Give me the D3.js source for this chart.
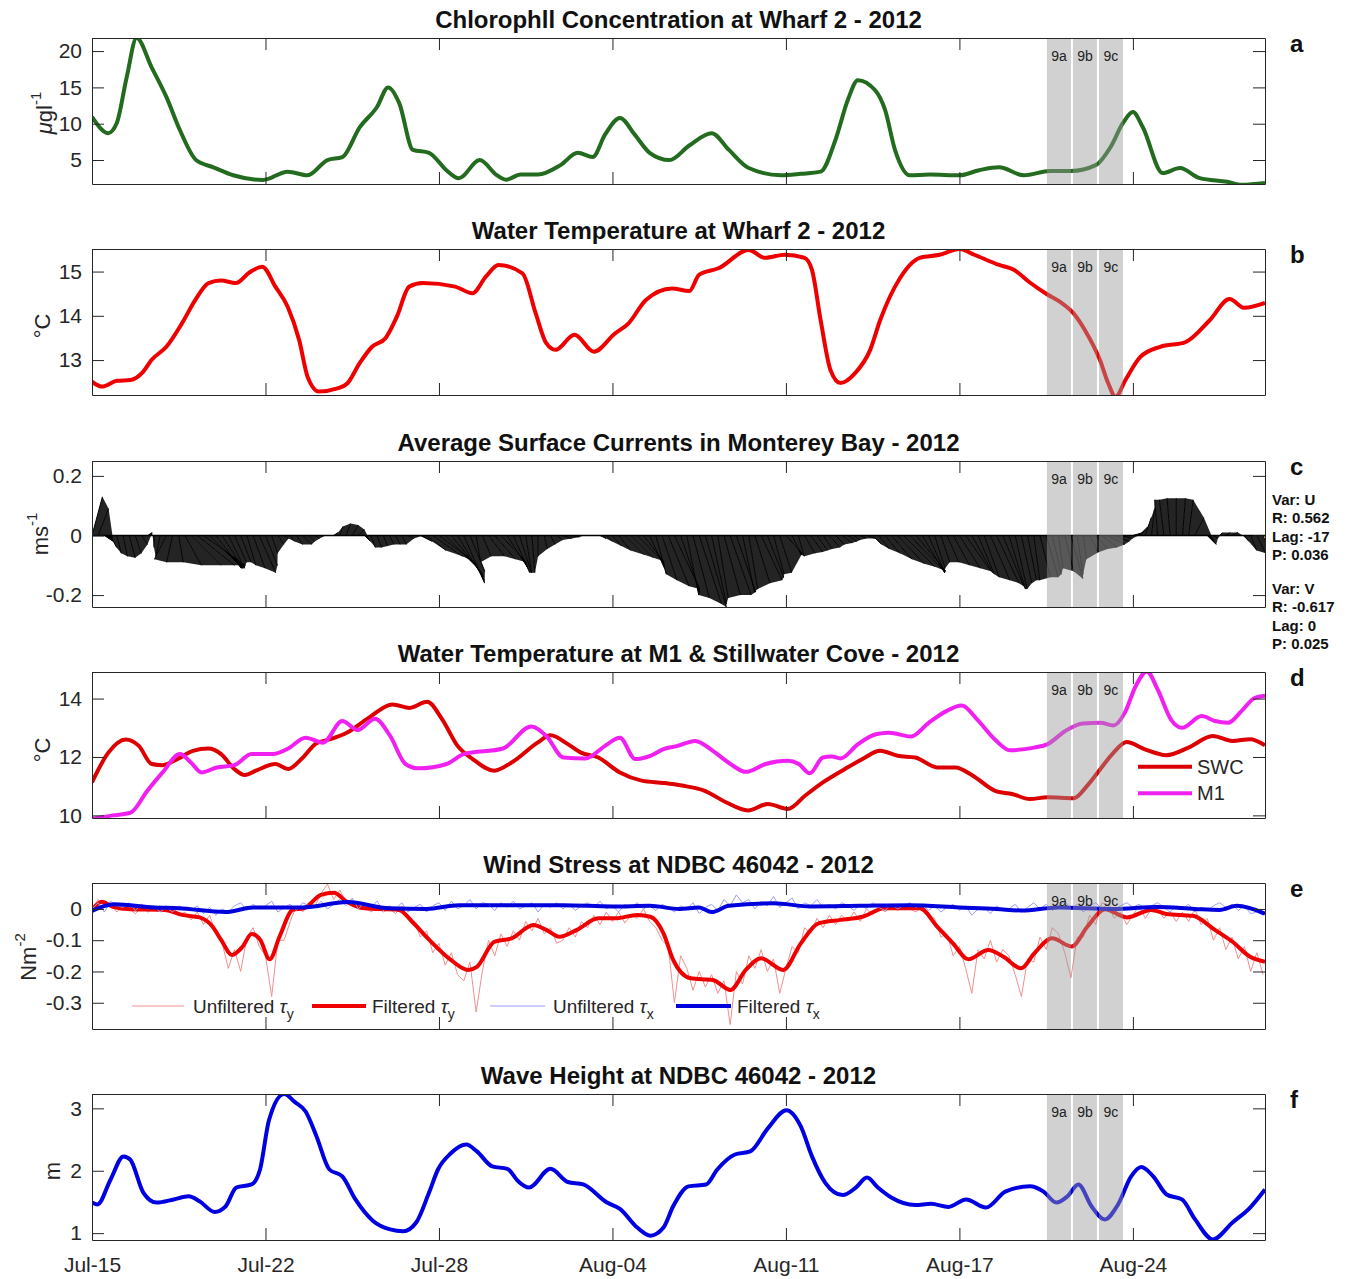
<!DOCTYPE html>
<html>
<head>
<meta charset="utf-8">
<script src="https://cdnjs.cloudflare.com/ajax/libs/d3/7.8.5/d3.min.js"></script>
<style>
body { margin: 0; background: #fff; }
svg { font-family: 'Liberation Sans', Arial, sans-serif; }
</style>
</head>
<body>
<svg id="canvas" width="1351" height="1279"></svg>
<script>
// time is in days after Jul-15 00:00
const tickDays = [0, 7, 14, 21, 28, 35, 42]
const tickLabels = ['Jul-15', 'Jul-22', 'Jul-28', 'Aug-04', 'Aug-11', 'Aug-17', 'Aug-24']
const endDay = 47.33

const bandStarts = [38.53, 39.58, 40.63]
const bandEnds = [39.5, 40.55, 41.6]
const bandLabels = ['9a', '9b', '9c']

const titles = [
    'Chlorophll Concentration at Wharf 2 - 2012',
    'Water Temperature at Wharf 2 - 2012',
    'Average Surface Currents in Monterey Bay - 2012',
    'Water Temperature at M1 & Stillwater Cove - 2012',
    'Wind Stress at NDBC 46042 - 2012',
    'Wave Height at NDBC 46042 - 2012'
]
const panelLetters = ['a', 'b', 'c', 'd', 'e', 'f']

// a: chlorophyll (ug/l)
const chlDays = [0, 0.65, 1.0, 1.4, 1.8, 2.4, 3.0, 3.55, 4.2, 4.9, 5.7, 6.9, 7.9, 8.7, 9.5, 10.1, 10.8, 11.5, 11.95, 12.4,
    12.95, 13.6, 14.3, 14.8, 15.65, 16.3, 16.7, 17.3, 18.0, 18.9, 19.6, 20.2, 20.7, 21.3, 21.9, 22.5, 23.3, 24.1, 25.0, 25.7,
    26.5, 27.8, 28.6, 29.4, 30.0, 30.5, 30.9, 31.6, 32.0, 32.4, 33.0, 33.8, 35.0, 35.8, 36.6, 37.6, 38.65, 39.5, 40.5, 41.1,
    41.6, 42.0, 42.4, 43.2, 43.9, 44.7, 45.8, 46.4, 47.33]
const chlVals = [10.96, 8.7, 10.1, 16.4, 21.8, 17.8, 13.7, 9.1, 5.0, 4.0, 2.9, 2.25, 3.4, 2.9, 5.0, 5.4, 9.5, 12.3, 15.0, 12.8,
    6.4, 6.0, 3.6, 2.5, 5.0, 3.0, 2.3, 3.0, 3.0, 4.3, 6.0, 5.4, 8.5, 10.8, 8.5, 6.0, 5.0, 7.0, 8.7, 6.4,
    3.9, 2.9, 3.1, 3.4, 7.8, 13.3, 16.0, 14.6, 11.9, 6.4, 2.9, 3.0, 2.9, 3.6, 4.0, 2.9, 3.5, 3.5, 4.3, 6.8,
    10.1, 11.6, 9.5, 3.2, 3.9, 2.5, 2.0, 1.6, 1.85]

// b: water temperature at Wharf 2 (C)
const wharfDays = [0, 0.4, 1.0, 1.55, 2.07, 2.4, 3.0, 3.64, 4.17, 4.7, 5.2, 5.8, 6.35, 6.87, 7.4, 7.9, 8.36, 8.7, 9.15, 9.9,
    10.3, 10.8, 11.3, 11.85, 12.3, 12.8, 13.35, 14.65, 15.35, 15.9, 16.4, 17.37, 17.9, 18.33, 18.7, 19.47, 20.25, 21.1, 21.65, 22.35,
    23.4, 24.1, 24.5, 25.3, 26.5, 27.15, 27.95, 28.75, 29.05, 29.4, 29.8, 30.2, 30.8, 31.4, 31.8, 32.6, 33.4, 34.2, 35.0, 35.6,
    36.6, 37.2, 37.8, 38.5, 39.05, 39.66, 40.06, 40.67, 41.0, 41.3, 41.7, 42.3, 43.1, 44.1, 45.1, 45.9, 46.5, 47.33]
const wharfVals = [12.51, 12.40, 12.53, 12.55, 12.74, 13.0, 13.3, 13.84, 14.36, 14.74, 14.8, 14.74, 14.98, 15.11, 14.66, 14.2, 13.45, 12.62, 12.29, 12.36,
    12.47, 12.93, 13.3, 13.5, 13.98, 14.66, 14.74, 14.66, 14.51, 14.89, 15.15, 14.96, 14.06, 13.38, 13.23, 13.57, 13.19, 13.6, 13.83, 14.36,
    14.62, 14.56, 14.93, 15.08, 15.49, 15.31, 15.38, 15.31, 15.04, 13.9, 12.77, 12.48, 12.71, 13.23, 13.9, 14.85, 15.31, 15.38, 15.51, 15.38,
    15.15, 15.04, 14.77, 14.5, 14.32, 14.02, 13.68, 13.0, 12.48, 12.17, 12.55, 13.07, 13.3, 13.4, 13.9, 14.38, 14.18, 14.29]

// c: surface currents every 6 hours (m/s)
const currentStep = 0.25
const currentU = [
    0.035, 0.035, 0.03, 0.02, 0.015, 0.015, 0.02, 0.02,
    0.02, 0.015, 0.0, -0.015, -0.04, -0.02, 0.015, 0.055,
    0.1, 0.125, 0.14, 0.11, 0.085, 0.07, 0.055, 0.04,
    0.035, 0.03, 0.04, 0.055, 0.04, 0.02, 0.02, 0.015,
    0.015, 0.02, 0.03, 0.02, 0.015, 0.015, 0.02, 0.015,
    0.01, 0.015, 0.02, 0.02, 0.02, 0.015, 0.015, 0.015,
    0.015, 0.015, 0.015, 0.02, 0.03, 0.04, 0.065, 0.1,
    0.12, 0.11, 0.105, 0.09, 0.07, 0.05, 0.015, 0.03,
    0.055, 0.07, 0.085, 0.07, 0.055, 0.04, 0.02, 0.01,
    0.0, 0.01, 0.015, 0.02, 0.03, 0.035, 0.03, 0.02,
    0.02, 0.02, 0.02, 0.02, 0.03, 0.04, 0.065, 0.075,
    0.085, 0.07, 0.05, 0.035, 0.05, 0.07, 0.085, 0.065,
    0.04, 0.055, 0.075, 0.07, 0.05, 0.035, 0.055, 0.07,
    0.065, 0.04, 0.03, 0.05, 0.07, 0.055, 0.035, 0.04,
    0.055, 0.03, 0.02, 0.035, 0.04, 0.035, 0.03, 0.035,
    0.03, 0.035, 0.03, 0.02, 0.02, 0.03, 0.03, 0.035,
    0.05, 0.07, 0.09, 0.105, 0.11, 0.1, 0.075, 0.055,
    0.035, 0.03, 0.04, 0.055, 0.07, 0.085, 0.07, 0.055,
    0.05, 0.065, 0.075, 0.07, 0.055, 0.04, 0.035, 0.03,
    0.02, 0.035, 0.04, 0.03, 0.015, 0.03, 0.04, 0.02,
    0.01, 0.03, 0.04, 0.05, 0.055, 0.05, 0.04, 0.04,
    0.035, 0.03, 0.02, 0.01, -0.01, -0.015, -0.01, 0.0,
    0.01, 0.015, 0.03, 0.035, 0.03, 0.015, 0.01, 0.015,
    0.02, 0.015, 0.015, 0.02, 0.03, 0.03]
const currentV = [
    0.13, 0.09, -0.02, -0.04, -0.06, -0.07, -0.075, -0.06,
    -0.03, 0.01, -0.04, -0.07, -0.08, -0.09, -0.09, -0.10,
    -0.10, -0.10, -0.10, -0.11, -0.11, -0.11, -0.11, -0.09,
    -0.09, -0.10, -0.11, -0.125, -0.10, -0.06, -0.03, -0.01,
    -0.02, -0.03, -0.03, -0.02, -0.01, 0.0, 0.0, 0.01,
    0.03, 0.04, 0.035, 0.02, -0.02, -0.04, -0.04, -0.035,
    -0.03, -0.03, -0.03, -0.01, 0.0, -0.02, -0.05, -0.07,
    -0.09, -0.11, -0.13, -0.15, -0.16, -0.12, -0.09, -0.07,
    -0.07, -0.08, -0.09, -0.11, -0.125, -0.125, -0.125, -0.125,
    -0.07, -0.045, -0.03, -0.015, -0.01, -0.005, 0.0, 0.0,
    0.0, 0.0, -0.01, -0.02, -0.035, -0.05, -0.065, -0.075,
    -0.085, -0.09, -0.11, -0.13, -0.15, -0.17, -0.18, -0.19,
    -0.2, -0.21, -0.23, -0.24, -0.23, -0.21, -0.2, -0.2,
    -0.19, -0.19, -0.18, -0.16, -0.15, -0.14, -0.13, -0.125,
    -0.06, -0.065, -0.07, -0.06, -0.055, -0.05, -0.045, -0.04,
    -0.03, -0.025, -0.02, -0.015, -0.01, -0.01, -0.03, -0.045,
    -0.06, -0.08, -0.095, -0.105, -0.115, -0.12, -0.125, -0.125,
    -0.11, -0.09, -0.09, -0.1, -0.11, -0.12, -0.125, -0.13,
    -0.14, -0.15, -0.16, -0.17, -0.18, -0.18, -0.16, -0.15,
    -0.15, -0.14, -0.14, -0.13, -0.11, -0.12, -0.145, -0.13,
    -0.08, -0.056, -0.045, -0.04, -0.03, -0.02, -0.01, 0.0,
    0.01, 0.03, 0.06, 0.09, 0.12, 0.12, 0.125, 0.125,
    0.125, 0.12, 0.06, 0.0, -0.03, -0.01, 0.01, 0.01,
    0.01, 0.0, -0.02, -0.05, -0.06, -0.07]
const statLines = ['Var: U', 'R: 0.562', 'Lag: -17', 'P: 0.036', 'Var: V', 'R: -0.617', 'Lag: 0', 'P: 0.025']

// d: SWC and M1 temperature (C)
const swcDays = [0, 0.66, 1.36, 1.89, 2.41, 2.85, 3.46, 4.07, 4.69, 5.21, 5.74, 6.17, 6.61, 7.4, 7.92, 8.45, 9.06, 9.59, 10.28, 11.16,
    12.12, 12.82, 13.52, 14.13, 14.75, 15.36, 16.23, 16.93, 17.98, 18.5, 19.2, 19.73, 20.43, 21.3, 22.18, 23.06, 23.8, 24.7, 25.58, 26.47,
    27.27, 28.07, 28.78, 29.49, 30.38, 31.09, 31.8, 32.51, 33.22, 34.11, 34.83, 35.54, 36.42, 37.13, 37.84, 38.56, 39.62, 40.16, 40.69, 41.22,
    41.75, 42.46, 43.35, 44.24, 45.22, 46.02, 46.73, 47.33]
const swcVals = [11.13, 12.15, 12.6, 12.38, 11.76, 11.72, 11.93, 12.21, 12.29, 12.1, 11.59, 11.38, 11.53, 11.76, 11.59, 11.93, 12.47, 12.6, 12.83, 13.34,
    13.8, 13.68, 13.89, 13.29, 12.38, 11.93, 11.53, 11.81, 12.49, 12.74, 12.44, 12.15, 11.98, 11.47, 11.19, 11.11, 11.02, 10.85, 10.45, 10.17,
    10.39, 10.22, 10.68, 11.13, 11.59, 11.93, 12.21, 12.04, 11.98, 11.64, 11.64, 11.36, 10.85, 10.73, 10.56, 10.62, 10.59, 11.02, 11.59, 12.15,
    12.51, 12.27, 12.06, 12.32, 12.72, 12.55, 12.61, 12.4]
const m1Days = [0, 0.84, 1.55, 2.24, 2.85, 3.55, 3.99, 4.42, 5.04, 5.74, 6.44, 7.31, 7.92, 8.62, 9.32, 10.1, 10.72, 11.42, 12.03, 12.65,
    13.17, 14.31, 15.0, 16.58, 17.72, 18.33, 19.03, 19.91, 20.7, 21.3, 21.92, 22.53, 23.06, 23.63, 24.34, 25.05, 25.76, 26.38, 27.18, 28.07,
    28.52, 28.96, 29.49, 29.85, 30.2, 30.91, 31.63, 32.16, 33.05, 33.76, 34.47, 35.09, 35.71, 36.42, 37.04, 38.02, 38.56, 39.27, 39.98, 40.69,
    41.22, 41.67, 42.11, 42.56, 43.0, 43.53, 43.98, 44.78, 45.31, 45.84, 46.38, 46.91, 47.33]
const m1Vals = [9.88, 10.0, 10.09, 10.85, 11.47, 12.1, 11.81, 11.47, 11.64, 11.72, 12.1, 12.1, 12.29, 12.66, 12.49, 13.23, 12.92, 13.31, 12.72, 11.76,
    11.61, 11.76, 12.1, 12.29, 13.04, 12.72, 11.98, 11.95, 12.38, 12.66, 11.93, 12.04, 12.27, 12.38, 12.55, 12.21, 11.76, 11.49, 11.76, 11.87,
    11.76, 11.44, 11.98, 12.02, 11.95, 12.44, 12.78, 12.83, 12.7, 13.17, 13.57, 13.76, 13.29, 12.61, 12.23, 12.32, 12.44, 12.89, 13.15, 13.17,
    13.08, 13.51, 14.42, 14.93, 14.31, 13.29, 13.0, 13.4, 13.23, 13.17, 13.57, 14.02, 14.1]

// e: wind stress (N/m2), raw every 6 hours, filtered at key points
const tauStep = 0.25
const tauYRaw = [
    0.0, 0.03, 0.01, 0.02, -0.01, 0.01, 0.0, -0.015,
    0.005, -0.01, 0.0, 0.01, -0.01, 0.005, -0.02, -0.01,
    -0.035, -0.01, -0.05, -0.02, -0.08, -0.11, -0.19, -0.13,
    -0.2, -0.09, -0.06, -0.12, -0.15, -0.28, -0.1, -0.1,
    -0.04, 0.01, -0.01, 0.02, 0.01, 0.05, 0.08, 0.03,
    0.06, 0.02, 0.03, 0.0, 0.01, -0.01, 0.005, -0.01,
    0.0, -0.015, 0.01, -0.03, -0.04, -0.09, -0.07, -0.14,
    -0.11, -0.18, -0.14, -0.21, -0.23, -0.17, -0.33, -0.2,
    -0.1, -0.15, -0.08, -0.12, -0.07, -0.1, -0.04, -0.07,
    -0.03, -0.08, -0.06, -0.11, -0.1, -0.06, -0.09, -0.04,
    -0.06, -0.02, -0.05, -0.01, -0.04, -0.01, -0.045, -0.02,
    -0.03, 0.0, -0.04, -0.06, -0.1, -0.12, -0.3, -0.15,
    -0.19, -0.26, -0.2, -0.25, -0.21, -0.27, -0.23, -0.37,
    -0.2, -0.24, -0.15, -0.19, -0.13, -0.2, -0.16, -0.27,
    -0.19, -0.12, -0.14, -0.06, -0.08, -0.03, -0.06, -0.02,
    -0.05, -0.02, -0.04, -0.01, -0.04, 0.0, -0.02, 0.01,
    -0.01, 0.01, -0.005, 0.005, 0.0, -0.01, 0.01, -0.02,
    -0.03, -0.09, -0.08, -0.15, -0.12, -0.19, -0.27, -0.13,
    -0.16, -0.1, -0.17, -0.13, -0.15, -0.21, -0.28, -0.16,
    -0.17, -0.09, -0.13, -0.06, -0.08, -0.14, -0.22, -0.09,
    -0.09, -0.02, -0.05, 0.02, 0.01, -0.03, -0.01, -0.05,
    -0.02, 0.01, -0.03, 0.0, 0.0, -0.03, -0.01, -0.04,
    -0.01, -0.04, 0.0, -0.05, -0.03, -0.1, -0.06, -0.13,
    -0.09, -0.16, -0.12, -0.2, -0.14, -0.21]
const tauXRaw = [
    0.0, 0.02, -0.01, 0.025, 0.01, 0.005, 0.02, -0.005,
    0.015, 0.0, 0.01, -0.01, 0.005, -0.01, 0.01, 0.0,
    -0.005, 0.01, -0.015, 0.005, -0.02, 0.0, -0.01, 0.01,
    0.02, -0.005, 0.015, 0.0, 0.01, 0.025, -0.01, 0.005,
    0.015, -0.005, 0.02, 0.01, 0.005, 0.025, 0.0, 0.015,
    0.03, 0.01, 0.035, 0.0, 0.02, 0.005, 0.025, -0.005,
    0.01, 0.0, 0.02, -0.01, 0.005, 0.015, -0.01, 0.01,
    0.02, -0.005, 0.025, 0.0, 0.01, 0.03, 0.0, 0.02,
    0.015, -0.005, 0.02, 0.005, 0.025, 0.0, 0.01, 0.02,
    -0.01, 0.015, 0.005, 0.02, 0.0, 0.015, -0.005, 0.01,
    0.02, 0.005, 0.025, 0.0, 0.01, -0.01, 0.015, 0.005,
    0.02, 0.0, 0.01, -0.005, 0.015, 0.005, -0.01, 0.01,
    0.0, 0.02, -0.015, 0.005, 0.015, -0.005, 0.03, 0.01,
    0.045, 0.02, 0.03, 0.0, 0.025, 0.01, 0.04, 0.005,
    0.02, 0.035, 0.0, 0.02, 0.01, 0.03, 0.005, 0.015,
    0.0, 0.02, 0.01, -0.005, 0.015, 0.0, 0.02, 0.005,
    -0.005, 0.015, 0.0, 0.01, 0.02, 0.005, 0.015, -0.005,
    0.01, -0.01, 0.005, 0.015, -0.005, 0.01, -0.02, 0.0,
    0.005, -0.015, 0.01, -0.005, 0.0, 0.015, -0.01, 0.005,
    0.02, 0.0, 0.015, -0.005, 0.01, 0.025, 0.0, 0.015,
    -0.01, 0.01, 0.02, 0.0, 0.015, -0.005, 0.01, 0.02,
    0.005, 0.015, 0.0, 0.01, 0.02, 0.005, -0.01, 0.01,
    0.0, 0.015, -0.01, 0.005, -0.005, 0.01, 0.02, 0.005,
    0.015, -0.005, 0.01, -0.015, -0.01, -0.02]
const tauYDays = [0, 0.4, 0.84, 1.55, 2.94, 3.64, 4.34, 4.86, 5.21, 5.65, 6.08, 6.44, 6.79, 7.17, 7.57, 8.1, 8.54, 9.24, 9.76, 10.28,
    10.99, 12.39, 12.91, 13.61, 14.48, 15.18, 15.53, 16.23, 16.93, 17.81, 18.33, 18.86, 19.56, 20.43, 21.13, 22.0, 22.53, 23.06, 23.45, 24.16,
    25.05, 25.76, 26.38, 27.0, 27.89, 28.6, 29.31, 30.2, 31.09, 31.98, 33.4, 34.11, 34.74, 35.36, 36.16, 36.78, 37.49, 38.02, 38.74, 39.53,
    40.16, 40.87, 41.76, 42.73, 43.35, 44.42, 45.31, 46.02, 46.73, 47.33]
const tauYVals = [-0.003, 0.023, 0.007, -0.001, -0.003, -0.019, -0.027, -0.056, -0.099, -0.147, -0.12, -0.08, -0.099, -0.161, -0.088, -0.003, 0.002, 0.045, 0.052, 0.023,
    0.002, -0.003, -0.04, -0.099, -0.163, -0.195, -0.185, -0.105, -0.094, -0.051, -0.067, -0.089, -0.067, -0.03, -0.03, -0.019, -0.025, -0.078, -0.163, -0.222,
    -0.227, -0.259, -0.195, -0.158, -0.195, -0.11, -0.046, -0.035, -0.025, 0.002, 0.002, -0.057, -0.11, -0.161, -0.131, -0.153, -0.19, -0.142, -0.094, -0.12,
    -0.057, -0.001, -0.027, -0.003, -0.016, -0.022, -0.067, -0.105, -0.153, -0.169]
const tauXDays = [0, 0.9, 2.5, 3.5, 5.4, 6.5, 8.5, 10.3, 12, 13.5, 14.8, 16.5, 19, 21, 22.5, 23.7, 24.5, 25, 25.7, 27.5,
    29, 31, 33, 35, 36.5, 37.5, 39, 41.2, 43, 44.5, 45.5, 46.2, 47.33]
const tauXVals = [-0.006, 0.015, 0.005, 0.002, -0.01, 0.005, 0.005, 0.022, 0.002, 0.0, 0.012, 0.012, 0.012, 0.008, 0.01, 0.0, 0.005, -0.01, 0.01, 0.018,
    0.008, 0.01, 0.012, 0.005, 0.0, -0.005, 0.005, 0.0, 0.006, 0.0, -0.003, 0.01, -0.015]

// f: wave height (m)
const waveDays = [0, 0.22, 0.75, 1.27, 1.54, 2.07, 2.6, 3.3, 3.9, 4.34, 4.95, 5.39, 5.82, 6.44, 6.78, 7.14, 7.75, 8.19, 8.62, 9.06,
    9.58, 10.1, 10.63, 11.33, 12.03, 12.56, 13.08, 13.6, 13.96, 14.48, 15.1, 15.53, 16.15, 16.76, 17.2, 17.63, 18.5, 19.2, 19.82, 20.78,
    21.3, 22.0, 22.53, 23.06, 23.45, 24.07, 24.78, 25.23, 25.94, 26.56, 27.27, 28.02, 28.6, 29.05, 29.58, 30.29, 30.82, 31.27, 31.71, 32.25,
    33.22, 33.85, 34.56, 35.27, 36.07, 36.87, 37.84, 38.38, 38.91, 39.36, 39.8, 40.33, 40.87, 41.4, 41.93, 42.34, 42.82, 43.36, 43.98, 44.51,
    45.23, 46.02, 46.73, 47.33]
const waveVals = [1.49, 1.46, 1.86, 2.23, 2.18, 1.65, 1.49, 1.54, 1.59, 1.51, 1.34, 1.43, 1.73, 1.78, 2.02, 2.81, 3.23, 3.1, 2.95, 2.55,
    2.02, 1.91, 1.54, 1.2, 1.06, 1.03, 1.17, 1.65, 2.02, 2.28, 2.42, 2.31, 2.07, 2.03, 1.83, 1.73, 2.03, 1.82, 1.78, 1.49,
    1.39, 1.09, 0.96, 1.09, 1.43, 1.75, 1.78, 2.02, 2.26, 2.31, 2.68, 2.97, 2.71, 2.23, 1.81, 1.61, 1.73, 1.89, 1.73, 1.57,
    1.45, 1.47, 1.42, 1.54, 1.41, 1.67, 1.75, 1.67, 1.49, 1.59, 1.78, 1.43, 1.22, 1.46, 1.91, 2.06, 1.91, 1.62, 1.54, 1.22,
    0.9, 1.17, 1.41, 1.7]

const yDomains = [[1.7, 21.8], [12.21, 15.51], [-0.24, 0.25], [9.91, 14.91], [-0.384, 0.083], [0.89, 3.23]]
const yTicks = [[5, 10, 15, 20], [13, 14, 15], [-0.2, 0, 0.2], [10, 12, 14], [-0.3, -0.2, -0.1, 0], [1, 2, 3]]

let svg = d3.select('#canvas')
let left = 92, right = 1265, panelH = 146
let panelTops = [38, 249, 461, 672, 883, 1094]
let axisColor = '#262626'

let x = d3.scaleLinear().domain([0, endDay]).range([left, right])

let makePanel = (i) => {
    let top = panelTops[i]
    let y = d3.scaleLinear().domain(yDomains[i]).range([top + panelH, top])
    let g = svg.append('g')
    g.append('clipPath').attr('id', 'clip' + i)
     .append('rect')
     .attr('x', left).attr('y', top)
     .attr('width', right - left).attr('height', panelH)
    let plot = g.append('g').attr('clip-path', 'url(#clip' + i + ')')
    return { i: i, top: top, y: y, g: g, plot: plot }
}

let drawCurve = (p, days, vals, color, width) => {
    let line = d3.line()
                 .x((d) => x(d[0]))
                 .y((d) => p.y(d[1]))
                 .curve(d3.curveMonotoneX)
    p.plot.append('path')
          .attr('d', line(d3.zip(days, vals)))
          .attr('fill', 'none')
          .attr('stroke', color)
          .attr('stroke-width', width)
          .attr('stroke-linejoin', 'round')
}

let drawRaw = (p, vals, step, color) => {
    let line = d3.line()
                 .x((d, k) => x(k * step))
                 .y((d) => p.y(d))
    p.plot.append('path')
          .attr('d', line(vals))
          .attr('fill', 'none')
          .attr('stroke', color)
          .attr('stroke-width', 1)
}

let drawBands = (p) => {
    bandStarts.forEach((start, k) => {
        p.g.append('rect')
           .attr('x', x(start))
           .attr('y', p.top)
           .attr('width', x(bandEnds[k]) - x(start))
           .attr('height', panelH)
           .attr('fill', '#999')
           .attr('fill-opacity', 0.45)
        p.g.append('text')
           .attr('x', (x(start) + x(bandEnds[k])) / 2)
           .attr('y', p.top + 23)
           .attr('text-anchor', 'middle')
           .attr('font-size', 14)
           .attr('fill', '#222')
           .text(bandLabels[k])
    })
}

let drawAxes = (p) => {
    let bottom = p.top + panelH
    let isLast = p.i === panelTops.length - 1

    let yl = p.g.append('g')
                .attr('transform', 'translate(' + left + ',0)')
                .call(d3.axisLeft(p.y).tickValues(yTicks[p.i]).tickFormat((d) => String(d))
                        .tickSizeInner(-12).tickSizeOuter(0).tickPadding(10))
    let yr = p.g.append('g')
                .attr('transform', 'translate(' + right + ',0)')
                .call(d3.axisRight(p.y).tickValues(yTicks[p.i]).tickFormat('')
                        .tickSizeInner(-12).tickSizeOuter(0))
    let xt = p.g.append('g')
                .attr('transform', 'translate(0,' + p.top + ')')
                .call(d3.axisTop(x).tickValues(tickDays).tickFormat('')
                        .tickSizeInner(-12).tickSizeOuter(0))
    let xb = p.g.append('g')
                .attr('transform', 'translate(0,' + bottom + ')')
                .call(d3.axisBottom(x).tickValues(tickDays)
                        .tickFormat((d, k) => isLast ? tickLabels[k] : '')
                        .tickSizeInner(-12).tickSizeOuter(0).tickPadding(17))

    ;[yl, yr, xt, xb].forEach((a) => {
        a.selectAll('path').attr('stroke', axisColor)
        a.selectAll('line').attr('stroke', axisColor)
        a.selectAll('text')
         .attr('fill', axisColor)
         .attr('font-size', 21)
         .attr('font-family', "'Liberation Sans', Arial, sans-serif")
    })

    p.g.append('text')
       .attr('x', (left + right) / 2)
       .attr('y', p.top - 10)
       .attr('text-anchor', 'middle')
       .attr('font-size', 24)
       .attr('font-weight', 'bold')
       .attr('fill', '#111')
       .text(titles[p.i])

    p.g.append('text')
       .attr('x', 1290)
       .attr('y', p.top + 14)
       .attr('font-size', 24)
       .attr('font-weight', 'bold')
       .attr('fill', '#111')
       .text(panelLetters[p.i])
}

let yLabel = (p, bx, cy, parts) => {
    let t = p.g.append('text')
               .attr('transform', 'translate(' + bx + ',' + cy + ') rotate(-90)')
               .attr('text-anchor', 'middle')
               .attr('font-size', 22)
               .attr('fill', axisColor)
    parts.forEach((part) => {
        let s = t.append('tspan').text(part.text)
        if (part.italic) s.attr('font-style', 'italic')
        if (part.sup) s.attr('font-size', 15).attr('dy', '-0.75em')
    })
}

// a
let pa = makePanel(0)
drawCurve(pa, chlDays, chlVals, '#236b1e', 4)
drawBands(pa)
drawAxes(pa)
yLabel(pa, 52, 113, [{ text: 'μ', italic: true }, { text: 'gl' }, { text: '-1', sup: true }])

// b
let pb = makePanel(1)
drawCurve(pb, wharfDays, wharfVals, '#ee0000', 4)
drawBands(pb)
drawAxes(pb)
yLabel(pb, 50, 326, [{ text: '°C' }])

// c feather sticks, with the space between neighbouring sticks shaded
let pc = makePanel(2)
let sticks = d3.zip(currentU, currentV).map((d, k) => {
    let bx = x(k * currentStep)
    return { bx: bx, tx: bx + (pc.y(0) - pc.y(d[0])), ty: pc.y(d[1]) }
})
pc.plot.selectAll('path.web')
       .data(d3.pairs(sticks))
       .enter()
       .append('path')
       .attr('class', 'web')
       .attr('d', (s) => 'M' + s[0].bx + ',' + pc.y(0) + 'L' + s[0].tx + ',' + s[0].ty +
                         'L' + s[1].tx + ',' + s[1].ty + 'L' + s[1].bx + ',' + pc.y(0) + 'Z')
       .attr('fill', '#000')
       .attr('fill-opacity', 0.86)
       .attr('stroke', 'none')
pc.plot.selectAll('line.stick')
       .data(sticks)
       .enter()
       .append('line')
       .attr('class', 'stick')
       .attr('x1', (s) => s.bx)
       .attr('y1', pc.y(0))
       .attr('x2', (s) => s.tx)
       .attr('y2', (s) => s.ty)
       .attr('stroke', '#000')
       .attr('stroke-width', 1)
pc.plot.append('line')
       .attr('x1', left).attr('x2', right)
       .attr('y1', pc.y(0)).attr('y2', pc.y(0))
       .attr('stroke', '#000').attr('stroke-width', 1.5)
drawBands(pc)
drawAxes(pc)
yLabel(pc, 48, 534, [{ text: 'ms' }, { text: '-1', sup: true }])
statLines.forEach((s, k) => {
    pc.g.append('text')
        .attr('x', 1272)
        .attr('y', [505, 523, 542, 560, 594, 612, 631, 649][k])
        .attr('font-size', 15)
        .attr('font-weight', 'bold')
        .attr('fill', '#111')
        .text(s)
})

// d
let pd = makePanel(3)
drawCurve(pd, swcDays, swcVals, '#dd0000', 4)
drawCurve(pd, m1Days, m1Vals, '#f020f0', 4)
drawBands(pd)
drawAxes(pd)
yLabel(pd, 50, 750, [{ text: '°C' }])
;[['SWC', '#dd0000', 766.7], ['M1', '#f020f0', 793.3]].forEach((it) => {
    pd.g.append('line')
        .attr('x1', 1138).attr('x2', 1192)
        .attr('y1', it[2]).attr('y2', it[2])
        .attr('stroke', it[1]).attr('stroke-width', 4)
    pd.g.append('text')
        .attr('x', 1197).attr('y', it[2] + 7)
        .attr('font-size', 20)
        .attr('fill', axisColor)
        .text(it[0])
})

// e
let pe = makePanel(4)
drawRaw(pe, tauYRaw, tauStep, '#f09090')
drawCurve(pe, tauYDays, tauYVals, '#ee0000', 4)
drawRaw(pe, tauXRaw, tauStep, '#9c9cf4')
drawCurve(pe, tauXDays, tauXVals, '#0000dd', 4)
drawBands(pe)
drawAxes(pe)
yLabel(pe, 36, 957, [{ text: 'Nm' }, { text: '-2', sup: true }])
let legendE = [
    { x1: 132, x2: 184, color: '#f09090', w: 1, tx: 193, label: 'Unfiltered ', sub: 'y' },
    { x1: 312, x2: 366, color: '#ee0000', w: 4, tx: 372, label: 'Filtered ', sub: 'y' },
    { x1: 490, x2: 545, color: '#9c9cf4', w: 1, tx: 553, label: 'Unfiltered ', sub: 'x' },
    { x1: 676, x2: 731, color: '#0000dd', w: 4, tx: 737, label: 'Filtered ', sub: 'x' }
]
legendE.forEach((it) => {
    pe.g.append('line')
        .attr('x1', it.x1).attr('x2', it.x2)
        .attr('y1', 1006).attr('y2', 1006)
        .attr('stroke', it.color).attr('stroke-width', it.w)
    let t = pe.g.append('text')
                .attr('x', it.tx).attr('y', 1013)
                .attr('font-size', 19)
                .attr('fill', axisColor)
    t.append('tspan').text(it.label)
    t.append('tspan').attr('font-style', 'italic').text('τ')
    t.append('tspan').attr('font-size', 14).attr('dy', '0.45em').text(it.sub)
})

// f
let pf = makePanel(5)
drawCurve(pf, waveDays, waveVals, '#0000e0', 4)
drawBands(pf)
drawAxes(pf)
yLabel(pf, 60, 1171, [{ text: 'm' }])
</script>
</body>
</html>
